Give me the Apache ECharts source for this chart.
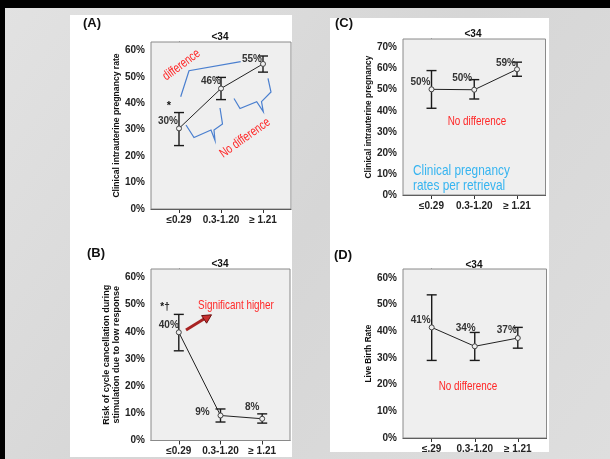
<!DOCTYPE html>
<html><head><meta charset="utf-8">
<script src="https://cdn.jsdelivr.net/npm/echarts@6/dist/echarts.min.js"></script>
<style>html,body{margin:0;padding:0;background:#d8d8d8}#c{width:610px;height:459px}</style>
</head><body><div id="c"></div>
<script>
// ---- data ----
const catsABC = ['≤0.29', '0.3-1.20', '≥ 1.21'];
const catsD = ['≤.29', '0.3-1.20', '≥ 1.21'];
const yTicks60 = [0, 10, 20, 30, 40, 50, 60];
const yTicks70 = [0, 10, 20, 30, 40, 50, 60, 70];

const rateA = [30.5, 45.6, 54.9];
const lowA = [24.0, 41.4, 51.8];
const highA = [36.5, 49.8, 57.9];
const labelsA = ['30%', '46%', '55%'];

const rateB = [39.8, 9.2, 8.0];
const lowB = [33.0, 6.8, 6.4];
const highB = [46.4, 11.6, 9.8];
const labelsB = ['40%', '9%', '8%'];

const rateC = [50.2, 50.0, 59.7];
const lowC = [41.2, 45.6, 56.4];
const highC = [59.1, 54.8, 63.1];
const labelsC = ['50%', '50%', '59%'];

const rateD = [41.5, 34.4, 37.5];
const lowD = [29.1, 29.1, 33.7];
const highD = [53.7, 39.6, 41.5];
const labelsD = ['41%', '34%', '37%'];

// ---- layout / style ----
const panels = [
  {grid:{left:151, top:42, width:140, height:167}, max:63.2, ticks:yTicks60, cats:catsABC,
   rate:rateA, low:lowA, high:highA, labels:labelsA,
   name:'Clinical intrauterine pregnancy rate', nameGap:29, nameSize:8.6,
   offs:[[-11,-7],[-10,-7],[-11,-5]]},
  {grid:{left:151, top:269, width:139, height:171.5}, max:63.1, ticks:yTicks60, cats:catsABC,
   rate:rateB, low:lowB, high:highB, labels:labelsB,
   name:'Risk of cycle cancellation during\nstimulation due to low response', nameGap:29, nameSize:9,
   offs:[[-10,-7],[-18,-3],[-10,-12]]},
  {grid:{left:403, top:39, width:142.5, height:156}, max:74.1, ticks:yTicks70, cats:catsABC,
   rate:rateC, low:lowC, high:highC, labels:labelsC,
   name:'Clinical intrauterine pregnancy', nameGap:30, nameSize:8.4,
   offs:[[-11,-7],[-12,-11],[-11,-6]]},
  {grid:{left:403, top:269, width:143.5, height:169}, max:63.4, ticks:yTicks60, cats:catsD,
   rate:rateD, low:lowD, high:highD, labels:labelsD,
   name:'Live Birth Rate', nameGap:27, nameSize:8.2,
   offs:[[-11,-7],[-9,-18],[-11,-8]]}
];

const FONT = 'Liberation Sans, Arial, sans-serif';
const NX = 0.76; // horizontal squeeze to mimic a narrow face

const grid = [], xAxis = [], yAxis = [], series = [];
panels.forEach((p, i) => {
  grid.push(Object.assign({show:true, backgroundColor:'#efefef', borderColor:'#8a8a8a', borderWidth:1, z:2}, p.grid));
  xAxis.push({type:'value', gridIndex:i, min:-2/3, max:8/3,
    axisLine:{show:true, lineStyle:{color:'#333', width:1}},
    axisTick:{show:true, customValues:[0,1,2], length:4, lineStyle:{color:'#333'}},
    axisLabel:{customValues:[0,1,2], margin:6, fontSize:10, fontWeight:'bold', color:'#222', fontFamily:FONT,
      formatter:v => p.cats[Math.round(v)]},
    splitLine:{show:false}});
  yAxis.push({type:'value', gridIndex:i, min:0, max:p.max,
    axisLine:{show:true, lineStyle:{color:'#333', width:1}},
    axisTick:{show:true, customValues:p.ticks, length:4, lineStyle:{color:'#333'}},
    axisLabel:{customValues:p.ticks, margin:6, fontSize:10, fontWeight:'bold', color:'#222', fontFamily:FONT,
      formatter:v => v + '%'},
    splitLine:{show:false},
    name:p.name, nameLocation:'middle', nameGap:p.nameGap,
    nameTextStyle:{fontSize:p.nameSize, fontWeight:'bold', color:'#111', fontFamily:FONT, lineHeight:p.nameSize+0.5}});
  // error bars
  series.push({type:'custom', xAxisIndex:i, yAxisIndex:i, z:5,
    data:p.rate.map((_, k) => [k, p.low[k], p.high[k]]),
    renderItem:(params, api) => {
      const x = api.value(0);
      const a = api.coord([x, api.value(2)]), b = api.coord([x, api.value(1)]);
      const w = 5, st = {stroke:'#1a1a1a', lineWidth:1.4};
      return {type:'group', children:[
        {type:'line', shape:{x1:a[0], y1:a[1], x2:b[0], y2:b[1]}, style:st},
        {type:'line', shape:{x1:a[0]-w, y1:a[1], x2:a[0]+w, y2:a[1]}, style:st},
        {type:'line', shape:{x1:b[0]-w, y1:b[1], x2:b[0]+w, y2:b[1]}, style:st}
      ]};
    }});
  // means
  series.push({type:'line', xAxisIndex:i, yAxisIndex:i, z:6,
    data:p.rate.map((v, k) => [k, v]),
    symbol:'circle', symbolSize:5, showAllSymbol:true,
    itemStyle:{color:'#efefef', borderColor:'#444', borderWidth:1},
    lineStyle:{color:'#222', width:1},
    label:{show:true, position:'inside', fontSize:10, fontWeight:'bold', color:'#333', fontFamily:FONT,
      formatter:prm => p.labels[prm.dataIndex]},
    labelLayout:prm => ({dx:p.offs[prm.dataIndex][0], dy:p.offs[prm.dataIndex][1]}),
    silent:true, animation:false});
});

// ---- decorations / annotations ----
const T = (text, x, y, o, extra) => Object.assign({type:'text', x, y, z:50,
  style:Object.assign({text, textAlign:'center', textVerticalAlign:'middle', align:'center', verticalAlign:'middle',
    fill:'#111', font:'bold 10px ' + FONT}, o || {})}, extra || {});
const PL = (pts, o) => ({type:'polyline', z:50, shape:{points:pts},
  style:Object.assign({stroke:'#4a7fcf', lineWidth:1.2, fill:null}, o || {})});
const RED = '#ff2626';

const graphic = [
  {type:'rect', z:-20, shape:{x:0, y:0, width:610, height:459},
   style:{fill:new echarts.graphic.LinearGradient(0,0,1,1,[{offset:0,color:'#e2e2e2'},{offset:0.5,color:'#d6d6d6'},{offset:1,color:'#dedede'}])}},
  {type:'rect', z:-10, shape:{x:0, y:0, width:610, height:8}, style:{fill:'#000'}},
  {type:'rect', z:-10, shape:{x:0, y:0, width:5, height:459}, style:{fill:'#000'}},
  {type:'rect', z:-10, shape:{x:70, y:15, width:222, height:442}, style:{fill:'#fff'}},
  {type:'rect', z:-10, shape:{x:330, y:18, width:219, height:434}, style:{fill:'#fff'}},
  // panel letters
  T('(A)', 92, 23, {font:'bold 13px ' + FONT}),
  T('(B)', 96, 253, {font:'bold 13px ' + FONT}),
  T('(C)', 344, 23, {font:'bold 13px ' + FONT}),
  T('(D)', 343, 255, {font:'bold 13px ' + FONT}),
  // subgroup titles
  T('<34', 220, 37), T('<34', 220, 264), T('<34', 473, 34), T('<34', 474, 265),
  // panel A annotations
  T('*', 169, 106, {font:'bold 11px ' + FONT}),
  PL([[180.7,96.7],[189,70.7],[240.7,61.7]]),
  PL([[186,125],[194,137.5],[211,130],[215,140.5],[214,130],[222.5,124],[220,108]]),
  PL([[234,98.5],[240,108.5],[256.7,101.7],[263.3,111.7],[261.5,101.7],[271,92],[268,78.3]]),
  T('difference', 181.5, 65, {fill:RED, font:'13px ' + FONT}, {rotation:0.64, scaleX:NX}),
  T('No difference', 245, 138, {fill:RED, font:'13px ' + FONT}, {rotation:0.62, scaleX:NX}),
  // panel B annotations
  T('*†', 165, 307, {font:'bold 10px ' + FONT}),
  T('Significant higher', 236, 305, {fill:'#ff2a2a', font:'13px ' + FONT}, {scaleX:NX}),
  {type:'line', z:50, shape:{x1:186, y1:330, x2:205.5, y2:318}, style:{stroke:'#a82323', lineWidth:3}},
  {type:'polygon', z:50, shape:{points:[[211.5,314.8],[206.6,323.2],[201.6,315.6]]}, style:{fill:'#c83030', stroke:'#6a1010', lineWidth:1}},
  // panel C annotations
  T('No difference', 477, 121, {fill:RED, font:'13px ' + FONT}, {scaleX:NX}),
  T('Clinical pregnancy', 413, 171, {fill:'#35b4f0', font:'15px ' + FONT, textAlign:'left', align:'left'}, {scaleX:0.79}),
  T('rates per retrieval', 413, 185.5, {fill:'#35b4f0', font:'15px ' + FONT, textAlign:'left', align:'left'}, {scaleX:0.79}),
  // panel D annotations
  T('No difference', 468, 386, {fill:RED, font:'13px ' + FONT}, {scaleX:NX})
];

const chart = echarts.init(document.getElementById('c'), null, {renderer:'canvas'});
chart.setOption({animation:false, backgroundColor:'transparent', grid, xAxis, yAxis, series, graphic});
</script></body></html>
